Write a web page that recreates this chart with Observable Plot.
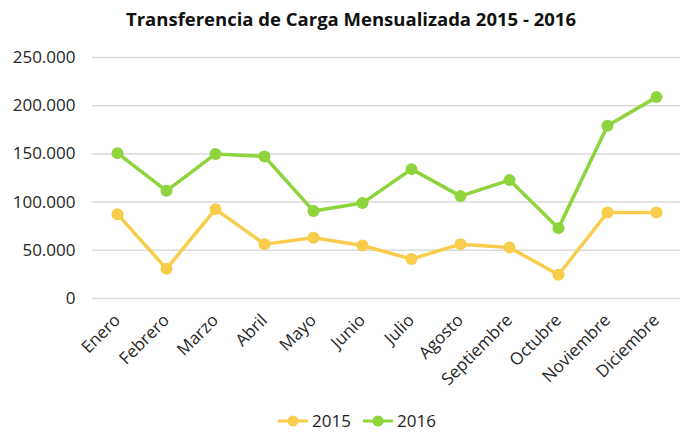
<!DOCTYPE html>
<html><head><meta charset="utf-8">
<script src="https://cdn.jsdelivr.net/npm/d3@7"></script>
<script src="https://cdn.jsdelivr.net/npm/@observablehq/plot@0.6"></script>
<style>
body{margin:0;background:#fff;font-family:"Open Sans",sans-serif;}
#wrap{width:680px;height:432px;position:relative;overflow:hidden;}
#title{position:absolute;left:0;top:6px;width:702px;text-align:center;font-weight:bold;font-size:18.5px;color:#111;}
#chart{position:absolute;left:0;top:40px;}
#legend{position:absolute;left:0;top:409px;width:714px;display:flex;justify-content:center;gap:12px;font-size:17px;color:#222;}
.item{display:flex;align-items:center;gap:4px;}
</style></head>
<body><div id="wrap"><div id="title">Transferencia de Carga Mensualizada 2015 - 2016</div><div id="chart"></div><div id="legend"></div></div>
<script>
const months = ["Enero","Febrero","Marzo","Abril","Mayo","Junio","Julio","Agosto","Septiembre","Octubre","Noviembre","Diciembre"];
const v2015 = [87500, 30800, 92700, 56400, 63000, 55000, 40900, 56400, 52900, 24600, 89200, 89200];
const v2016 = [150800, 111700, 150000, 147300, 90700, 99000, 134200, 106200, 122800, 73000, 179100, 208900];
const series = ["2015", "2016"];
const colors = ["#F8CD4B", "#8ED43C"];
const yTicks = [0, 50000, 100000, 150000, 200000, 250000];

const data = months.flatMap((m, i) => [
  {month: m, serie: series[0], value: v2015[i]},
  {month: m, serie: series[1], value: v2016[i]}
]);
const fmt = d => d3.format(",")(d).replace(/,/g, ".");

const chart = Plot.plot({
  width: 680, height: 360,
  marginTop: 17, marginBottom: 102, marginLeft: 92, marginRight: 0,
  style: {fontFamily: "Open Sans", fontSize: "17px", color: "#262626", background: "white"},
  x: {type: "point", domain: months, padding: 0.5, label: null, tickSize: 0, tickRotate: -45, tickPadding: 19},
  y: {domain: [0, 250000], ticks: yTicks, tickFormat: fmt, label: null, tickSize: 0, tickPadding: 17},
  color: {domain: series, range: colors},
  marks: [
    Plot.ruleY(yTicks, {stroke: "#d9d9d9", strokeWidth: 1.5}),
    Plot.line(data, {x: "month", y: "value", z: "serie", stroke: "serie", strokeWidth: 3.5}),
    Plot.dot(data, {x: "month", y: "value", fill: "serie", r: 6})
  ]
});
document.getElementById("chart").appendChild(chart);
chart.querySelectorAll("[aria-label='x-axis tick label'] text, [aria-label='y-axis tick label'] text").forEach(t => t.style.fontSize = "17px");

const legend = document.getElementById("legend");
series.forEach((s, i) => {
  const it = document.createElement("div");
  it.className = "item";
  it.innerHTML = `<svg width="30" height="14"><line x1="0" y1="7" x2="30" y2="7" stroke="${colors[i]}" stroke-width="3"/><circle cx="15" cy="7" r="5.5" fill="${colors[i]}"/></svg><span>${s}</span>`;
  legend.appendChild(it);
});
</script></body></html>
